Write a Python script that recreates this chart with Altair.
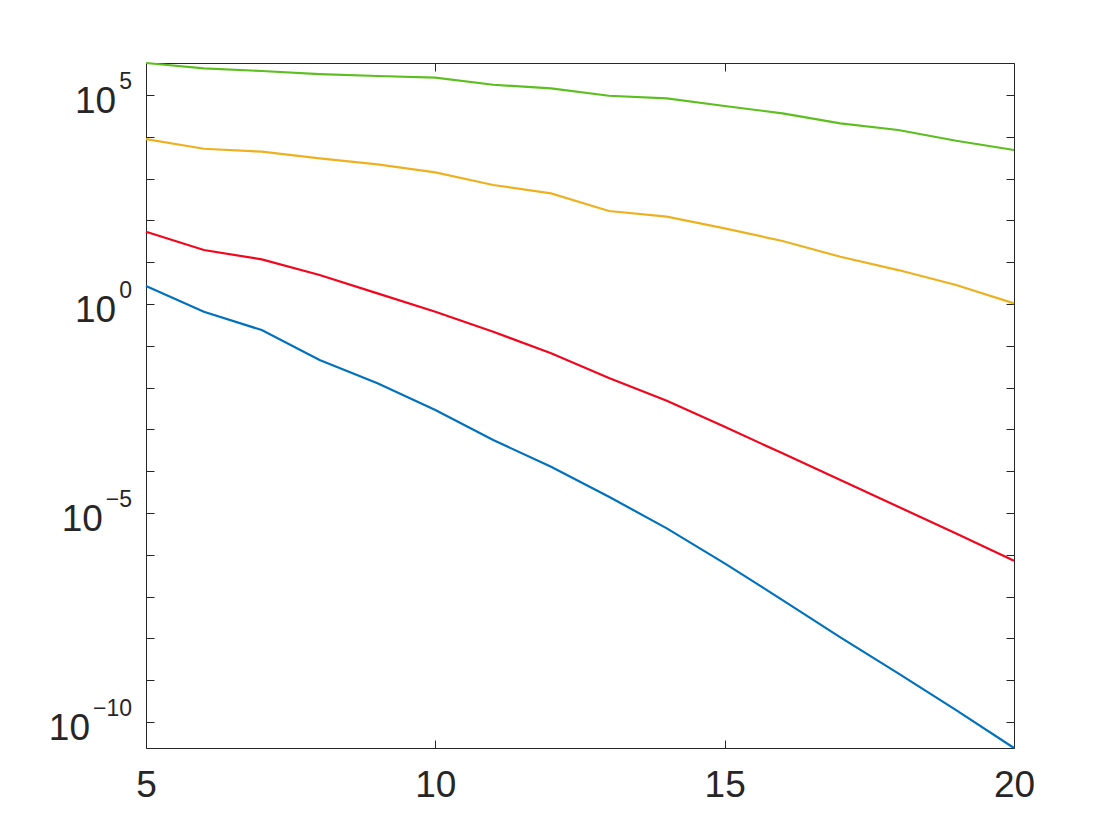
import altair as alt
import pandas as pd

x_vals = list(range(5, 21))

# log10 of the values
green_log = [5.766, 5.639, 5.574, 5.502, 5.455, 5.414, 5.246, 5.160, 4.983, 4.921,
             4.737, 4.562, 4.323, 4.163, 3.907, 3.684]
orange_log = [3.947, 3.715, 3.644, 3.486, 3.342, 3.151, 2.847, 2.648, 2.225, 2.089,
              1.811, 1.507, 1.132, 0.813, 0.455, 0.017]
red_log = [1.730, 1.292, 1.069, 0.694, 0.256, -0.184, -0.663, -1.179, -1.770, -2.313,
           -2.935, -3.572, -4.211, -4.849, -5.486, -6.141]
blue_log = [0.431, -0.184, -0.622, -1.340, -1.897, -2.536, -3.254, -3.892, -4.610, -5.366,
            -6.203, -7.081, -7.974, -8.835, -9.713, -10.620]

series_names = ["blue", "red", "orange", "green"]
series_colors = ["#0072BD", "#F2061E", "#EDB120", "#5CBF1F"]
series_logs = [blue_log, red_log, orange_log, green_log]

x_ticks = [5, 10, 15, 20]
y_tick_exps = list(range(-10, 6))
y_label_exps = [5, 0, -5, -10]

rows = []
for name, logs in zip(series_names, series_logs):
    for xv, lv in zip(x_vals, logs):
        rows.append({"x": xv, "y": 10 ** lv, "s": name})
df = pd.DataFrame(rows)

lab_df = pd.DataFrame({"e": y_label_exps})

y_ticks = [10.0 ** k for k in y_tick_exps]

FONT = "Liberation Sans"
AX = "#262626"
y_dom = [10 ** min(blue_log), 10 ** max(green_log)]

x_scale = alt.Scale(domain=[5, 20], nice=False, zero=False)
y_scale = alt.Scale(type="log", domain=y_dom, nice=False, zero=False)

x_enc_bottom = alt.X(
    "x:Q", scale=x_scale,
    axis=alt.Axis(values=x_ticks, orient="bottom", offset=-8, tickSize=8, domain=False,
                  grid=False, labelFontSize=37, labelFont=FONT, labelColor=AX,
                  tickColor=AX, labelPadding=19, title=None, labelFlush=False),
)
x_enc_top = alt.X(
    "x:Q", scale=x_scale,
    axis=alt.Axis(values=x_ticks, orient="top", offset=-8, tickSize=8, domain=False,
                  grid=False, labels=False, tickColor=AX, title=None),
)

lines = alt.Chart(df).mark_line(strokeWidth=2.2).encode(
    x=x_enc_bottom,
    y=alt.Y("y:Q", scale=y_scale,
            axis=alt.Axis(values=y_ticks, orient="left", offset=-8, tickSize=8,
                          domain=False, grid=False, labels=False,
                          tickColor=AX, title=None)),
    color=alt.Color("s:N", scale=alt.Scale(domain=series_names, range=series_colors),
                    legend=None),
    detail="s:N",
)

ghost = alt.Chart(df).mark_line(strokeOpacity=0).encode(
    x=x_enc_top,
    y=alt.Y("y:Q", scale=y_scale,
            axis=alt.Axis(values=y_ticks, orient="right", offset=-8, tickSize=8,
                          domain=False, grid=False, labels=False, tickColor=AX,
                          title=None)),
    detail="s:N",
)

# tick labels "10" with superscript exponent, built from the label exponents
lab_base = alt.Chart(lab_df).transform_calculate(
    v="pow(10, datum.e)",
    et="(datum.e < 0 ? '\u2212' : '') + abs(datum.e)",
    px="-17 - 12.8 * length(abs(datum.e) + '') - (datum.e < 0 ? 13.4 : 0)",
)

exp_text = lab_base.mark_text(
    align="right", baseline="middle", font=FONT, fontSize=23, color=AX, dy=-13,
).encode(
    x=alt.value(-14),
    y=alt.Y("v:Q", scale=y_scale, axis=None),
    text="et:N",
)

base_text = lab_base.mark_text(
    align="right", baseline="middle", font=FONT, fontSize=37, color=AX, dy=7,
).encode(
    x=alt.X("px:Q", scale=None, axis=None),
    y=alt.Y("v:Q", scale=y_scale, axis=None),
    text=alt.value("10"),
)

chart = (
    alt.layer(lines, ghost, base_text, exp_text)
    .resolve_scale(x="shared", y="shared")
    .resolve_axis(x="independent", y="independent")
    .properties(width=868, height=685,
                background="white",
                autosize=alt.AutoSizeParams(type="none"),
                padding={"left": 138, "top": 55, "right": 90, "bottom": 77})
    .configure_view(stroke=AX, strokeWidth=1)
)

chart.save("out.html", embed_options={"renderer": "svg", "actions": False})
